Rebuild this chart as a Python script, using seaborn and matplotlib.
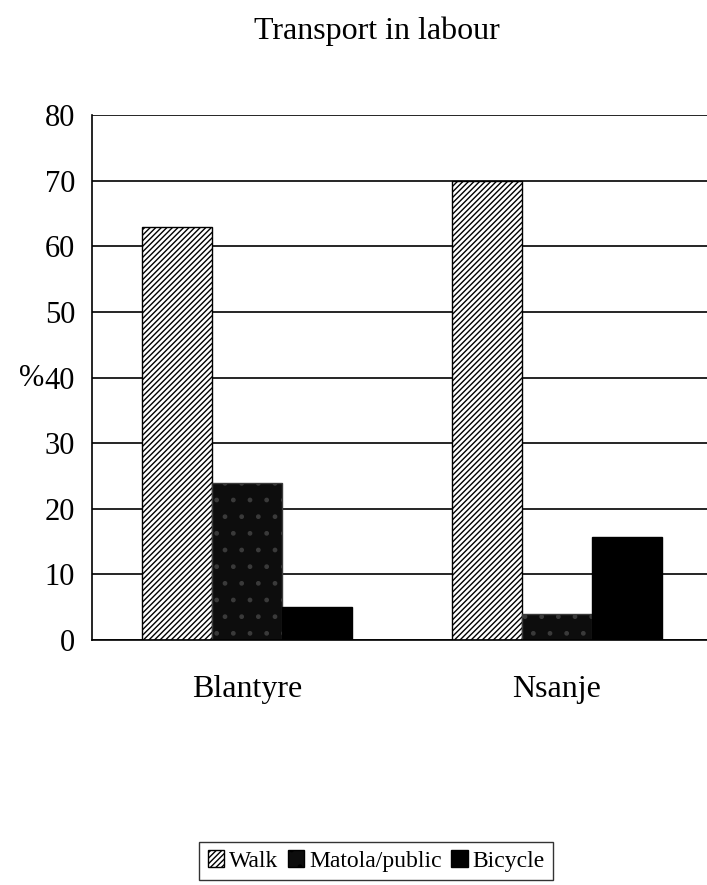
import matplotlib
matplotlib.use('Agg')
import matplotlib.pyplot as plt
import pandas as pd
import seaborn as sns
from matplotlib.patches import Patch

sites = ['Blantyre', 'Nsanje']
modes = ['Walk', 'Matola/public', 'Bicycle']
walk = [63, 70]
matola = [24, 4]
bicycle = [5, 15.7]

df = pd.DataFrame({
    'site': sites * 3,
    'mode': [m for m in modes for _ in sites],
    'pct': walk + matola + bicycle,
})

sns.set_style('white')
plt.rcParams['font.family'] = ['Liberation Serif', 'DejaVu Serif']
plt.rcParams['hatch.linewidth'] = 1.0
plt.rcParams['text.color'] = 'black'
plt.rcParams['xtick.color'] = 'black'
plt.rcParams['ytick.color'] = 'black'
plt.rcParams['axes.labelcolor'] = 'black'

fig = plt.figure(figsize=(7.07, 8.85), dpi=100)
ax = fig.add_axes([0.130, 0.2768, 0.877, 0.593])

sns.barplot(data=df, x='site', y='pct', hue='mode', hue_order=modes,
            order=sites, width=0.68, gap=0, ax=ax, legend=False,
            palette=['white', '#111111', 'black'], edgecolor='black',
            linewidth=1.0, saturation=1)

# black & white print look: hatched, speckled, solid
styles = {
    'Walk': dict(facecolor='white', hatch='//////', edgecolor='black'),
    'Matola/public': dict(facecolor='#0d0d0d', hatch='.', edgecolor='#3a3a3a'),
    'Bicycle': dict(facecolor='black', hatch=None, edgecolor='black'),
}
for cont, m in zip(ax.containers, modes):
    for bar in cont:
        bar.set_facecolor(styles[m]['facecolor'])
        bar.set_hatch(styles[m]['hatch'])
        bar.set_edgecolor(styles[m]['edgecolor'])

ax.set_ylim(0, 80)
ax.set_xlim(-0.5, 1.5)
ax.set_yticks(range(0, 81, 10))
ax.yaxis.grid(True, color='black', linewidth=1.2)
ax.set_axisbelow(True)
for s in ['top', 'right']:
    ax.spines[s].set_visible(False)
for s in ['left', 'bottom']:
    ax.spines[s].set_color('black')
    ax.spines[s].set_linewidth(1.2)

ax.set_xticks([-0.5, 0.5])
ax.set_xticklabels(['', ''])
ax.tick_params(axis='x', direction='out', length=8, width=1.0)
ax.tick_params(axis='y', direction='out', length=9, width=1.0,
               labelsize=22, pad=3)
for i, s in enumerate(sites):
    ax.text(i, -5.4, s, ha='center', va='top', fontsize=23)

ax.set_xlabel('')
ax.set_ylabel('%', fontsize=22, rotation=0)
ax.yaxis.set_label_coords(-0.098, 0.47)

fig.text(0.533, 0.965, 'Transport in labour', ha='center', va='center',
         fontsize=23)

handles = [Patch(facecolor=styles[m]['facecolor'], hatch=styles[m]['hatch'],
                 edgecolor='black', label=m) for m in modes]
fig.legend(handles=handles, loc='center', bbox_to_anchor=(0.532, 0.027),
           ncol=3, frameon=True, fancybox=False, edgecolor='black',
           fontsize=17, handlelength=0.7, handleheight=0.7, handletextpad=0.2,
           columnspacing=0.4, borderpad=0.35, borderaxespad=0)

fig.savefig('out.png', dpi=100)
